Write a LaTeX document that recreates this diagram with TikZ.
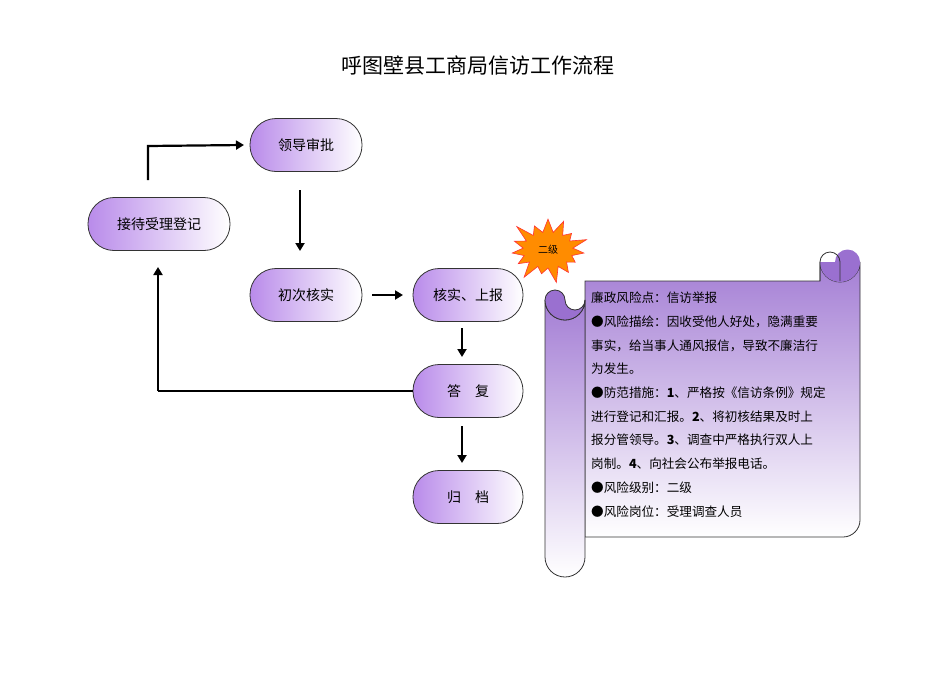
\documentclass[tikz,border=0pt]{standalone}
\usepackage{fontspec}
\setmainfont{Liberation Serif}
\newfontfamily\cjk{Noto Sans CJK SC}
\usetikzlibrary{shapes.symbols,arrows.meta}
\definecolor{pur}{HTML}{B98BEA}
\definecolor{purd}{HTML}{9A70D0}
\begin{document}
\begin{tikzpicture}[x=1pt,y=-1pt,
  box/.style={rounded corners=26pt,draw=black!80,line width=0.8pt,minimum width=112pt,minimum height=53pt,
    shading angle=-60,left color=pur,right color=white,font=\cjk\fontsize{14}{16}\selectfont,inner sep=0pt},
  arr/.style={line width=2.2pt,-{Triangle[length=8pt,width=9pt]}},
  txt/.style={anchor=west,font=\cjk\fontsize{12.6}{14}\selectfont,inner sep=0pt}]
\useasboundingbox (0,0) rectangle (950,672);
\node[font=\cjk\fontsize{21}{24}\selectfont] (title) at (478,66) {呼图壁县工商局信访工作流程};
\node[box] (ld) at (306,145) {领导审批};
\node[box,minimum width=142pt] (jd) at (159,224) {接待受理登记};
\node[box] (cc) at (306,295) {初次核实};
\node[box,minimum width=110pt] (hs) at (468,295) {核实、上报};
\node[box,minimum width=110pt] (df) at (468,391) {答\quad 复};
\node[box,minimum width=110pt] (gd) at (468,497) {归\quad 档};
\coordinate (a1) at (148,180); \coordinate (a2) at (148,146);
\draw[arr] (a1) -- (a2) -- (ld.west -| 244,0);
\draw[arr] (300,190) -- (300,251);
\draw[arr] (372,295) -- (403,295);
\draw[arr] (462,328) -- (462,357);
\draw[arr] (462,426) -- (462,463);
\coordinate (b1) at (158,391);
\draw[line width=2.2pt] (df.west) -- (b1);
\draw[arr] (b1) -- (158,267);
% scroll
\path[draw=black!80,line width=0.8pt,top color=purd!90,bottom color=white]
  (820,262) arc(180:0:20) -- (860,520) arc(0:90:17) -- (585,537) -- (585,281) -- (820,281) -- cycle;
\path[draw=black!80,line width=0.8pt,top color=purd!90,bottom color=white]
  (545,300) arc(180:0:20) -- (585,557) arc(0:180:20) -- cycle;
\fill[purd] (835,262) arc(180:360:12.5) -- (860,262) arc(0:180:20) -- cycle;
\draw[black!80,line width=0.8pt] (820,281) -- (820,262) arc(180:360:10) -- (840,281);
\draw[black!80,line width=0.8pt,fill=purd] (565,300) arc(180:0:10) -- (585,300) arc(0:180:20) arc(180:360:10);
\node[starburst,starburst points=15,starburst point height=18pt,minimum width=86pt,minimum height=72pt,
  fill=orange!90!yellow,draw=red!80,line width=0.6pt,font=\cjk\fontsize{10}{12}\selectfont,inner sep=0pt] (star) at (548,250) {二级};
\foreach \t [count=\i] in {廉政风险点：信访举报,●风险描绘：因收受他人好处，隐满重要,事实，给当事人通风报信，导致不廉洁行,为发生。,
 ●防范措施：\textbf{1}、严格按《信访条例》规定,进行登记和汇报。\textbf{2}、将初核结果及时上,报分管领导。\textbf{3}、调查中严格执行双人上,岗制。\textbf{4}、向社会公布举报电话。,●风险级别：二级,●风险岗位：受理调查人员}
  \node[txt] (l\i) at (591,298+23.7*\i-23.7) {\t};
\end{tikzpicture}
\end{document}
